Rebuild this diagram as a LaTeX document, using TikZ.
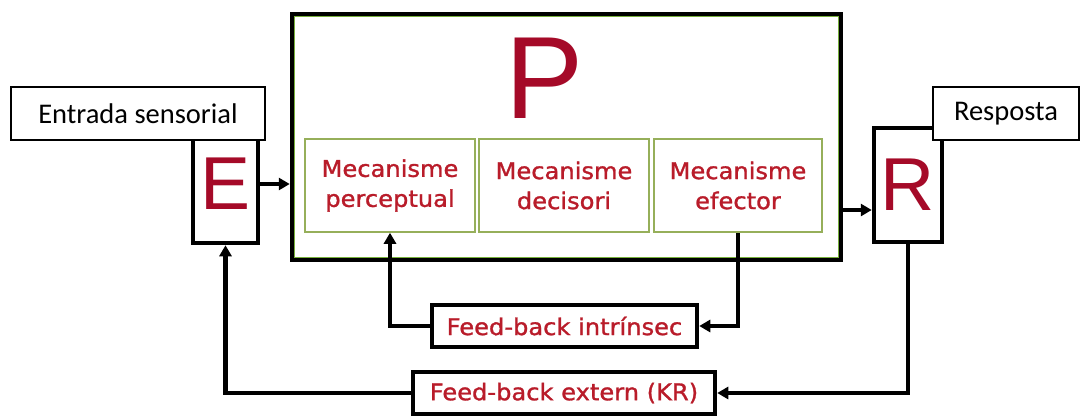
\documentclass[tikz,border=0pt]{standalone}
\usepackage{fontspec}
\usetikzlibrary{arrows.meta}
\newfontfamily\boxfont[FakeStretch=1.05,FakeBold=1.2]{DejaVu Sans}
\newfontfamily\bigfont{Liberation Sans}
\newfontfamily\labfont{Carlito}
\definecolor{bigred}{RGB}{165,10,40}
\definecolor{txtred}{RGB}{185,28,42}
\definecolor{pgreen}{RGB}{120,175,60}
\definecolor{olive}{RGB}{150,175,90}
\tikzset{
  thickbox/.style={draw=black, line width=4.5pt, fill=white, inner sep=0pt},
  subbox/.style={draw=olive, line width=1.5pt, fill=white, inner sep=0pt, minimum width=170pt, minimum height=93pt,
    align=center, text=txtred, font=\boxfont\fontsize{23}{30}\selectfont},
  fbbox/.style={thickbox, minimum height=42pt, text=txtred, font=\boxfont\fontsize{23}{28}\selectfont},
  letterbox/.style={thickbox, text=bigred, font=\bigfont\fontsize{75}{80}\selectfont},
  labbox/.style={draw=black, line width=1.3pt, fill=white, inner sep=0pt, minimum height=53pt, font=\labfont\fontsize{28.5}{32}\selectfont},
  arr/.style={line width=4.5pt, -{Triangle[length=11pt,width=12pt]}}
}
\begin{document}
\begin{tikzpicture}[x=1pt,y=-1pt]
\useasboundingbox[fill=white] (0,0) rectangle (1081,416);
% processing box
\node[thickbox, minimum width=549pt, minimum height=246pt] (P) at (566.5,137) {};
\draw[pgreen, line width=1.2pt] ([xshift=5pt,yshift=-5pt]P.north west) rectangle ([xshift=-5pt,yshift=5pt]P.south east);
\node[text=bigred, font=\bigfont\fontsize{117}{120}\selectfont, inner sep=0pt] (Pl) at (545,78) {P};
\node[subbox] (perc) at (390,185.5) {Mecanisme\\perceptual};
\node[subbox] (decis) at (564,185.5) {Mecanisme\\decisori};
\node[subbox, minimum width=168pt] (eff) at (738,185.5) {Mecanisme\\efector};
% E and R
\node[letterbox, minimum width=65pt, minimum height=118pt] (E) at (225.5,184) {E};
\node[letterbox, minimum width=68pt, minimum height=114pt] (R) at (908,185) {R};
% labels
\node[labbox, minimum width=254pt] (labE) at (138,113.5) {Entrada sensorial};
\node[labbox, minimum width=146pt] (labR) at (1006,113.5) {Resposta};
% feedback boxes
\node[fbbox, minimum width=265pt] (fbi) at (564.5,326) {Feed-back intrínsec};
\node[fbbox, minimum width=302pt] (fbe) at (564,393) {Feed-back extern (KR)};
% connectors
\draw[arr] (E.east) -- (P.west |- E.east);
\coordinate (Rin) at ([yshift=-25pt]R.west);
\draw[arr] (P.east |- Rin) -- (Rin);
\draw[arr] (eff.south) |- (fbi.east);
\draw[arr] (fbi.west) -| (perc.south);
\draw[arr] (R.south) |- (fbe.east);
\draw[arr] (fbe.west) -| (E.south);
\end{tikzpicture}
\end{document}
